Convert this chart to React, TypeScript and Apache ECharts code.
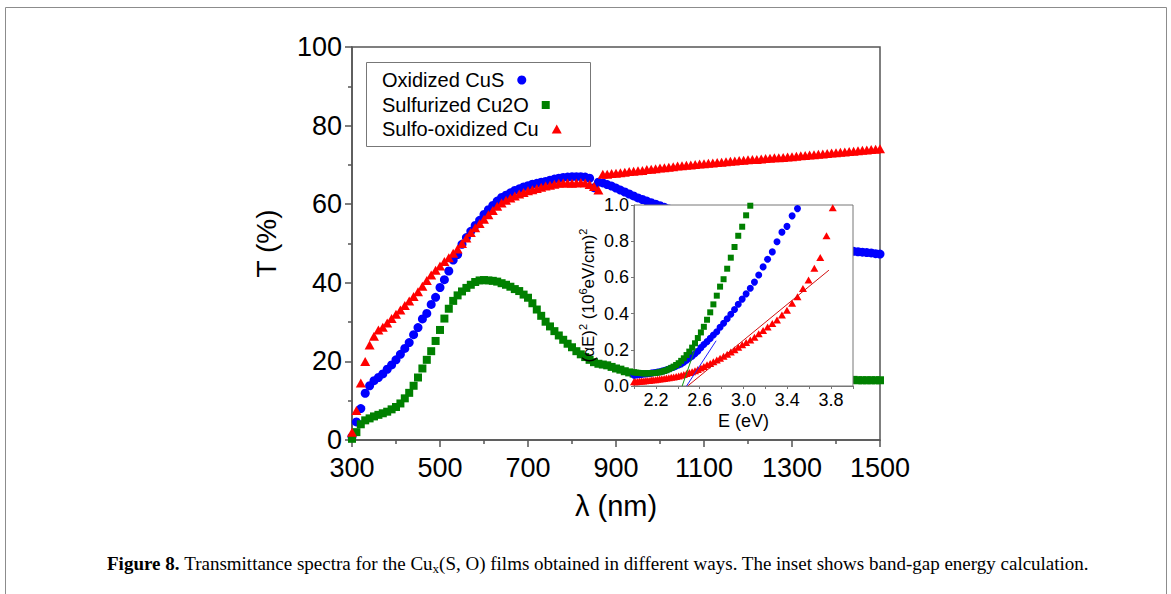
import React, { useEffect, useRef } from 'react';
import * as echarts from 'echarts';

const FONT = '"Liberation Sans", Arial, Helvetica, sans-serif';
const SERIF = '"Liberation Serif", "Times New Roman", serif';

const BLUE = '#0000ff';
const GREEN = '#008000';
const RED = '#ff0000';

// ---- main plot: transmittance vs wavelength ----
const wavelengthNm = [
  300, 310, 320, 330, 340, 350, 360, 370, 380, 390,
  400, 410, 420, 430, 440, 450, 460, 470, 480, 490,
  500, 510, 520, 530, 540, 550, 560, 570, 580, 590,
  600, 610, 620, 630, 640, 650, 660, 670, 680, 690,
  700, 710, 720, 730, 740, 750, 760, 770, 780, 790,
  800, 810, 820, 830, 840, 850, 860, 870, 880, 890,
  900, 910, 920, 930, 940, 950, 960, 970, 980, 990,
  1000, 1010, 1020, 1030, 1040, 1050, 1060, 1070, 1080, 1090,
  1100, 1110, 1120, 1130, 1140, 1150, 1160, 1170, 1180, 1190,
  1200, 1210, 1220, 1230, 1240, 1250, 1260, 1270, 1280, 1290,
  1300, 1310, 1320, 1330, 1340, 1350, 1360, 1370, 1380, 1390,
  1400, 1410, 1420, 1430, 1440, 1450, 1460, 1470, 1480, 1490,
  1500,
];

const oxidizedCuS = [
  0.8, 4.6, 8.0, 11.9, 13.8, 15.1, 15.9, 16.8, 18.0, 19.1,
  20.4, 21.8, 23.3, 24.8, 26.8, 28.6, 30.8, 32.2, 34.5, 36.3,
  38.8, 40.8, 43.0, 45.8, 47.2, 49.8, 51.5, 53.1, 54.6, 55.9,
  57.4, 58.6, 59.7, 60.8, 61.7, 62.3, 62.9, 63.5, 63.9, 64.4,
  64.7, 65.1, 65.3, 65.6, 65.8, 66.1, 66.4, 66.6, 66.8, 66.9,
  67.0, 67.0, 67.0, 66.9, 66.6, 64.2, 65.6, 65.4, 65.0, 64.6,
  64.1, 63.6, 63.1, 62.6, 62.1, 61.6, 61.2, 60.8, 60.4, 60.0,
  59.6, 59.2, 58.8, 58.4, 58.0, 57.6, 57.2, 56.8, 56.4, 56.0,
  55.6, 55.2, 54.9, 54.5, 54.2, 53.8, 53.5, 53.2, 52.9, 52.6,
  52.3, 52.0, 51.7, 51.4, 51.2, 50.9, 50.7, 50.4, 50.2, 50.0,
  49.8, 49.6, 49.4, 49.2, 49.0, 48.9, 48.7, 48.6, 48.5, 48.4,
  48.3, 48.2, 48.1, 48.1, 48.0, 47.9, 47.8, 47.7, 47.6, 47.4,
  47.3,
];

const sulfurizedCu2O = [
  0.3, 2.0, 4.0, 5.0, 5.5, 6.0, 6.4, 6.8, 7.2, 7.8,
  8.4, 9.3, 10.6, 12.0, 13.8, 15.9, 18.2, 20.4, 22.6, 25.2,
  28.0, 30.9, 33.4, 35.4, 36.8, 37.8, 38.7, 39.5, 40.2, 40.6,
  40.7, 40.6, 40.5, 40.3, 39.9, 39.5, 39.0, 38.4, 37.9, 37.0,
  36.2, 34.8, 33.2, 31.6, 30.1, 28.9, 27.7, 26.6, 25.5, 24.5,
  23.6, 22.6, 21.8, 21.1, 20.4, 19.8, 19.4, 19.2, 19.0, 18.6,
  18.2, 17.9, 17.5, 17.2, 16.9, 16.7, 16.5, 16.4, 16.3, 16.2,
  16.1, 16.1, 16.0, 16.0, 15.9, 15.9, 15.9, 15.8, 15.8, 15.8,
  15.8, 15.7, 15.7, 15.7, 15.7, 15.7, 15.6, 15.6, 15.6, 15.6,
  15.6, 15.5, 15.5, 15.5, 15.5, 15.5, 15.4, 15.4, 15.4, 15.4,
  15.4, 15.4, 15.4, 15.3, 15.3, 15.3, 15.3, 15.3, 15.3, 15.3,
  15.3, 15.3, 15.3, 15.3, 15.3, 15.2, 15.2, 15.2, 15.2, 15.2,
  15.2,
];

const sulfoOxidizedCu = [
  2.0, 7.5, 14.5, 20.0, 24.2, 26.4, 28.0, 28.7, 29.8, 30.9,
  32.0, 33.1, 34.2, 35.4, 36.5, 37.7, 39.1, 40.6, 42.0, 43.2,
  44.3, 45.4, 46.4, 47.5, 48.6, 50.0, 51.4, 52.8, 54.0, 55.1,
  56.2, 57.3, 58.4, 59.5, 60.3, 61.0, 61.6, 62.1, 62.6, 63.0,
  63.4, 63.7, 64.0, 64.3, 64.6, 64.8, 65.1, 65.3, 65.4, 65.4,
  65.3, 65.4, 65.5, 65.4, 65.0, 64.5, 63.6, 67.6, 67.6, 67.8,
  67.9, 68.0, 68.1, 68.3, 68.4, 68.5, 68.6, 68.8, 68.9, 69.0,
  69.2, 69.3, 69.4, 69.5, 69.7, 69.8, 69.9, 70.0, 70.1, 70.2,
  70.3, 70.4, 70.5, 70.6, 70.7, 70.8, 70.9, 71.0, 71.1, 71.2,
  71.3, 71.4, 71.4, 71.5, 71.6, 71.7, 71.8, 71.8, 71.9, 72.0,
  72.1, 72.2, 72.3, 72.4, 72.5, 72.6, 72.7, 72.8, 72.9, 73.0,
  73.1, 73.2, 73.3, 73.4, 73.5, 73.6, 73.7, 73.8, 73.9, 74.0,
  74.1,
];

// ---- inset: (alpha E)^2 vs photon energy ----
const insetEnergyEv = [
  2.000, 2.016, 2.033, 2.050, 2.067, 2.084, 2.102, 2.120, 2.138, 2.157,
  2.175, 2.195, 2.214, 2.234, 2.254, 2.275, 2.296, 2.318, 2.340, 2.362,
  2.385, 2.408, 2.431, 2.455, 2.480, 2.505, 2.531, 2.557, 2.583, 2.611,
  2.638, 2.667, 2.696, 2.725, 2.756, 2.786, 2.818, 2.851, 2.884, 2.918,
  2.952, 2.988, 3.024, 3.062, 3.100, 3.139, 3.179, 3.220, 3.263, 3.306,
  3.351, 3.397, 3.444, 3.493, 3.543, 3.594, 3.647, 3.701, 3.758, 3.815,
];

const insetOxidizedCuS = [
  0.060, 0.061, 0.062, 0.063, 0.064, 0.066, 0.067, 0.068, 0.069, 0.071,
  0.073, 0.075, 0.077, 0.079, 0.082, 0.085, 0.089, 0.094, 0.099, 0.104,
  0.110, 0.116, 0.122, 0.131, 0.142, 0.153, 0.165, 0.178, 0.192, 0.212,
  0.229, 0.245, 0.263, 0.282, 0.300, 0.325, 0.347, 0.372, 0.396, 0.423,
  0.452, 0.480, 0.509, 0.540, 0.574, 0.613, 0.658, 0.700, 0.741, 0.797,
  0.850, 0.882, 0.940, 0.980,
];

const insetSulfurizedCu2O = [
  0.076, 0.074, 0.073, 0.072, 0.071, 0.070, 0.070, 0.070, 0.070, 0.071,
  0.071, 0.072, 0.074, 0.076, 0.079, 0.083, 0.087, 0.093, 0.100, 0.107,
  0.116, 0.126, 0.139, 0.153, 0.171, 0.190, 0.212, 0.236, 0.265, 0.296,
  0.327, 0.366, 0.407, 0.451, 0.499, 0.549, 0.590, 0.648, 0.709, 0.768,
  0.830, 0.880, 0.943, 0.996,
];

const insetSulfoOxidizedCu = [
  0.023, 0.024, 0.025, 0.026, 0.027, 0.028, 0.029, 0.030, 0.031, 0.033,
  0.034, 0.035, 0.037, 0.038, 0.040, 0.042, 0.044, 0.046, 0.048, 0.050,
  0.052, 0.055, 0.059, 0.064, 0.069, 0.074, 0.079, 0.084, 0.091, 0.099,
  0.108, 0.117, 0.125, 0.134, 0.143, 0.154, 0.165, 0.176, 0.188, 0.200,
  0.214, 0.228, 0.241, 0.254, 0.270, 0.288, 0.307, 0.326, 0.345, 0.364,
  0.392, 0.419, 0.457, 0.493, 0.539, 0.585, 0.650, 0.710, 0.830, 0.985,
];

// linear fits (band-gap extrapolation)
const fitCuSEnergy = [2.48, 2.75];
const fitCuSValue = [0, 0.25];
const fitCu2OEnergy = [2.44, 2.56];
const fitCu2OValue = [0, 0.21];
const fitCuEnergy = [2.49, 3.78];
const fitCuValue = [0, 0.64];

const seriesNames = ['Oxidized CuS', 'Sulfurized Cu2O', 'Sulfo-oxidized Cu'];

const zip = (xs: number[], ys: number[]) => ys.map((y, i) => [xs[i], y]);

const AXIS = '#555';

function buildOption(): any {
  const legendRow = (name: string, top: number, w: number, h: number) => ({
    data: [name],
    orient: 'vertical',
    align: 'right',
    left: 382,
    top,
    padding: 0,
    itemWidth: w,
    itemHeight: h,
    selectedMode: false,
    z: 10,
    textStyle: { fontSize: 20, color: '#000', fontFamily: FONT, padding: [0, 8, 0, 0] },
  });

  return {
    animation: false,
    backgroundColor: '#fff',
    grid: [
      {
        left: 352, top: 47, width: 528, height: 393,
        show: true, borderColor: AXIS, borderWidth: 1.5, backgroundColor: 'transparent',
        outerBoundsMode: 'none', z: 0,
      },
      {
        left: 634, top: 205, width: 219, height: 181,
        show: true, borderColor: '#777', borderWidth: 1, backgroundColor: '#fff',
        outerBoundsMode: 'none', z: 5,
      },
    ],
    xAxis: [
      {
        type: 'value', gridIndex: 0, min: 300, max: 1500, interval: 200,
        name: 'λ (nm)', nameLocation: 'middle', nameGap: 51,
        nameTextStyle: { fontSize: 29, color: '#000', fontFamily: FONT },
        axisLine: { onZero: false, lineStyle: { color: AXIS, width: 1.5 } },
        axisTick: { inside: false, length: 7, lineStyle: { color: AXIS, width: 1.5 } },
        minorTick: { show: true, splitNumber: 2, length: 4, lineStyle: { color: AXIS, width: 1.5 } },
        axisLabel: { fontSize: 27, color: '#000', margin: 14, fontFamily: FONT, formatter: (v: number) => String(v) },
        splitLine: { show: false },
        z: 0,
      },
      {
        type: 'value', gridIndex: 1, min: 2, max: 4, interval: 0.2,
        name: 'E (eV)', nameLocation: 'middle', nameGap: 26,
        nameTextStyle: { fontSize: 18, color: '#000', fontFamily: FONT },
        axisLine: { onZero: false, lineStyle: { color: '#777', width: 1 } },
        axisTick: { inside: false, length: 3, lineStyle: { color: '#777', width: 1 } },
        axisLabel: {
          fontSize: 18, color: '#000', margin: 5, fontFamily: FONT,
          formatter: (v: number) => (Math.round(v * 10) % 4 === 2 ? v.toFixed(1) : ''),
        },
        splitLine: { show: false },
        z: 6,
      },
    ],
    yAxis: [
      {
        type: 'value', gridIndex: 0, min: 0, max: 100, interval: 20,
        name: 'T (%)', nameLocation: 'middle', nameGap: 72,
        nameTextStyle: { fontSize: 28, color: '#000', fontFamily: FONT },
        axisLine: { onZero: false, lineStyle: { color: AXIS, width: 1.5 } },
        axisTick: { inside: false, length: 7, lineStyle: { color: AXIS, width: 1.5 } },
        minorTick: { show: true, splitNumber: 2, length: 4, lineStyle: { color: AXIS, width: 1.5 } },
        axisLabel: { fontSize: 27, color: '#000', margin: 10, fontFamily: FONT, formatter: (v: number) => String(v) },
        splitLine: { show: false },
        z: 0,
      },
      {
        type: 'value', gridIndex: 1, min: 0, max: 1, interval: 0.2,
        name: '{n|(αE)}{s|2}{n| (10}{s|6}{n|eV/cm)}{s|2}',
        nameLocation: 'middle', nameGap: 37,
        nameTextStyle: {
          fontSize: 17, color: '#000', fontFamily: FONT,
          rich: {
            n: { fontSize: 17, color: '#000', fontFamily: FONT, lineHeight: 20, verticalAlign: 'bottom' },
            s: { fontSize: 11, color: '#000', fontFamily: FONT, lineHeight: 11, verticalAlign: 'top' },
          },
        },
        axisLine: { onZero: false, lineStyle: { color: '#777', width: 1 } },
        axisTick: { inside: false, length: 3, lineStyle: { color: '#777', width: 1 } },
        axisLabel: { fontSize: 18, color: '#000', margin: 5, fontFamily: FONT, formatter: (v: number) => v.toFixed(1) },
        splitLine: { show: false },
        z: 6,
      },
    ],
    legend: [
      legendRow(seriesNames[0], 70, 9, 9),
      legendRow(seriesNames[1], 95, 8, 8),
      legendRow(seriesNames[2], 119, 10, 9),
    ],
    series: [
      {
        name: seriesNames[0], type: 'scatter', xAxisIndex: 0, yAxisIndex: 0,
        symbol: 'circle', symbolSize: 9, itemStyle: { color: BLUE, opacity: 1 }, z: 2,
        data: zip(wavelengthNm, oxidizedCuS),
      },
      {
        name: seriesNames[1], type: 'scatter', xAxisIndex: 0, yAxisIndex: 0,
        symbol: 'rect', symbolSize: 8, itemStyle: { color: GREEN, opacity: 1 }, z: 2,
        data: zip(wavelengthNm, sulfurizedCu2O),
      },
      {
        name: seriesNames[2], type: 'scatter', xAxisIndex: 0, yAxisIndex: 0,
        symbol: 'triangle', symbolSize: [10, 9], itemStyle: { color: RED, opacity: 1 }, z: 2,
        data: zip(wavelengthNm, sulfoOxidizedCu),
      },
      {
        name: 'inset ' + seriesNames[0], type: 'scatter', xAxisIndex: 1, yAxisIndex: 1,
        symbol: 'circle', symbolSize: 7, itemStyle: { color: BLUE, opacity: 1 }, z: 7,
        data: zip(insetEnergyEv, insetOxidizedCuS),
      },
      {
        name: 'inset ' + seriesNames[1], type: 'scatter', xAxisIndex: 1, yAxisIndex: 1,
        symbol: 'rect', symbolSize: 6, itemStyle: { color: GREEN, opacity: 1 }, z: 7,
        data: zip(insetEnergyEv, insetSulfurizedCu2O),
      },
      {
        name: 'inset ' + seriesNames[2], type: 'scatter', xAxisIndex: 1, yAxisIndex: 1,
        symbol: 'triangle', symbolSize: [8, 7], itemStyle: { color: RED, opacity: 1 }, z: 7,
        data: zip(insetEnergyEv, insetSulfoOxidizedCu),
      },
      {
        name: 'fit CuS', type: 'line', xAxisIndex: 1, yAxisIndex: 1, symbol: 'none', z: 8,
        lineStyle: { color: '#2020ff', width: 1 }, data: zip(fitCuSEnergy, fitCuSValue),
      },
      {
        name: 'fit Cu2O', type: 'line', xAxisIndex: 1, yAxisIndex: 1, symbol: 'none', z: 8,
        lineStyle: { color: '#119911', width: 1 }, data: zip(fitCu2OEnergy, fitCu2OValue),
      },
      {
        name: 'fit Cu', type: 'line', xAxisIndex: 1, yAxisIndex: 1, symbol: 'none', z: 8,
        lineStyle: { color: '#d01010', width: 1 }, data: zip(fitCuEnergy, fitCuValue),
      },
    ],
    graphic: [
      {
        type: 'rect', z: 1, silent: true,
        shape: { x: 5.5, y: 7.5, width: 1161, height: 600 },
        style: { fill: 'none', stroke: '#8c8c8c', lineWidth: 1 },
      },
      {
        type: 'rect', z: 9, silent: true,
        shape: { x: 366.5, y: 62.5, width: 224, height: 84 },
        style: { fill: 'none', stroke: '#777', lineWidth: 1 },
      },
      {
        type: 'text', z: 20, silent: true, left: 107, top: 554,
        style: {
          text: '{b|Figure 8.} {n|Transmittance spectra for the Cu}{s|x}{n|(S, O) films obtained in different ways. The inset shows band-gap energy calculation.}',
          fontFamily: SERIF, fontSize: 19, fill: '#000',
          rich: {
            b: { fontFamily: SERIF, fontSize: 19, fontWeight: 'bold', lineHeight: 22, verticalAlign: 'middle' },
            n: { fontFamily: SERIF, fontSize: 19, lineHeight: 22, verticalAlign: 'middle' },
            s: { fontFamily: SERIF, fontSize: 13, lineHeight: 13, verticalAlign: 'bottom' },
          },
        },
      },
    ],
  };
}

export default function App() {
  const ref = useRef<HTMLDivElement>(null);
  useEffect(() => {
    if (!ref.current) return;
    const chart = echarts.init(ref.current, undefined, { renderer: 'svg', width: 1171, height: 594 });
    chart.setOption(buildOption());
    return () => chart.dispose();
  }, []);
  return (
    <div
      ref={ref}
      style={{ position: 'absolute', left: 0, top: 0, width: 1171, height: 594, background: '#fff' }}
    />
  );
}
